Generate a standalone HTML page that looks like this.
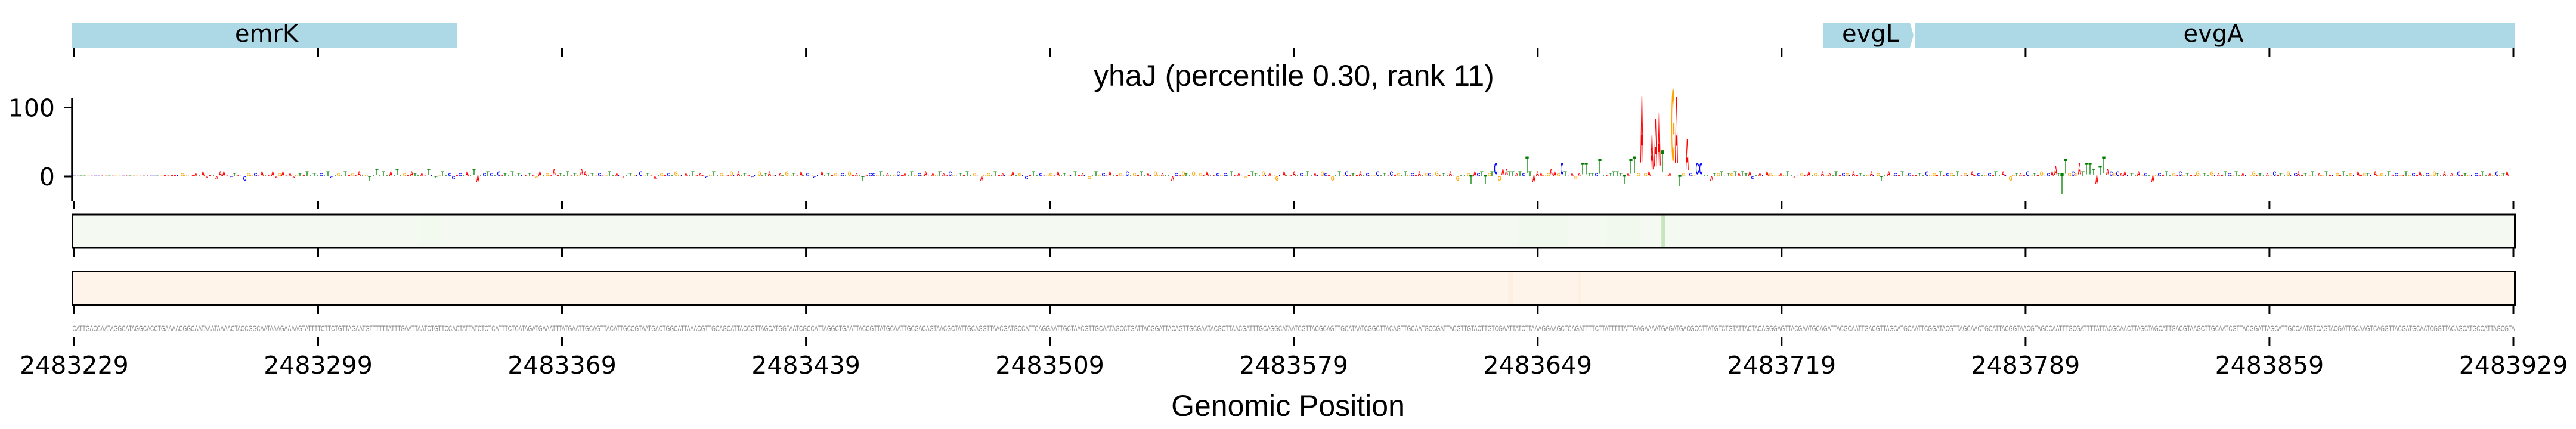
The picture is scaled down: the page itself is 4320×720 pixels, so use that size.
<!DOCTYPE html>
<html><head><meta charset="utf-8">
<style>
html,body{margin:0;padding:0;background:#fff;width:4320px;height:720px;overflow:hidden;position:relative}
svg{position:absolute;left:0;top:0}
#lg{position:absolute;left:121.48px;top:287.53px;width:4097px;display:flex;--y:.42;--t:0px}
ka,kc,kg,kt{display:block;flex:none;width:5.8437px;height:10px;font:bold 10px/10px "Liberation Sans",Arial,sans-serif;text-align:center;white-space:nowrap;transform-origin:50% 8.47px;transform:translateY(var(--t)) scale(var(--x),var(--y))}
ka{color:#ff0000;--x:.74}
kc{color:#0000ff;--x:.8}
kg{color:#ffa500;--x:.76}
kt{color:#008000;--x:.9}
w{display:contents;--y:.21}
.b{--y:.7}.c{--y:1.12}.d{--y:1.54}.e{--y:2.1}.f{--y:2.8}.g{--y:3.5}.h{--y:4.05}
.n2{--y:.42;--t:3px}.n3{--y:.7;--t:5px}.n4{--y:1.12;--t:8px}.n5{--y:1.54;--t:11px}.n6{--y:2.1;--t:15px}.n7{--y:2.8;--t:20px}.n8{--y:5.2;--t:37px}
</style></head><body>
<svg width="4320" height="720" viewBox="0 0 4320 720">
<rect width="4320" height="720" fill="#fff"/>
<rect x="121" y="38" width="645" height="42" fill="#add8e6"/>
<polygon points="3058,38 3203,38 3209,59 3203,80 3058,80" fill="#add8e6"/>
<rect x="3211" y="38" width="1007" height="42" fill="#add8e6"/>
<g font-family="DejaVu Sans, sans-serif" font-size="40" text-anchor="middle" fill="#000">
<text x="447" y="70">emrK</text><text x="3137" y="70">evgL</text><text x="3712" y="70">evgA</text>
</g>
<g stroke="#000" stroke-width="3" fill="none">
<path d="M124.4 80v15M533.5 80v15M942.5 80v15M1351.6 80v15M1760.6 80v15M2169.7 80v15M2578.8 80v15M2987.8 80v15M3396.9 80v15M3805.9 80v15M4215 80v15"/>
<path transform="translate(0,257)" d="M124.4 80v14M533.5 80v14M942.5 80v14M1351.6 80v14M1760.6 80v14M2169.7 80v14M2578.8 80v14M2987.8 80v14M3396.9 80v14M3805.9 80v14M4215 80v14"/>
<path transform="translate(0,337)" d="M124.4 80v14M533.5 80v14M942.5 80v14M1351.6 80v14M1760.6 80v14M2169.7 80v14M2578.8 80v14M2987.8 80v14M3396.9 80v14M3805.9 80v14M4215 80v14"/>
<path transform="translate(0,433)" d="M124.4 80v14M533.5 80v14M942.5 80v14M1351.6 80v14M1760.6 80v14M2169.7 80v14M2578.8 80v14M2987.8 80v14M3396.9 80v14M3805.9 80v14M4215 80v14"/>
<path transform="translate(0,486)" d="M124.4 80v14M533.5 80v14M942.5 80v14M1351.6 80v14M1760.6 80v14M2169.7 80v14M2578.8 80v14M2987.8 80v14M3396.9 80v14M3805.9 80v14M4215 80v14"/>
<path d="M121 165V337" stroke-width="3.5"/>
<path d="M107 180.5H121M107 296H121"/>
</g>
<g font-family="DejaVu Sans, sans-serif" font-size="41" text-anchor="end" fill="#000">
<text x="92" y="195.5">100</text><text x="92" y="311">0</text>
</g>
<text x="2170" y="144" font-family="Liberation Sans, Arial, sans-serif" font-size="50" text-anchor="middle" fill="#000">yhaJ (percentile 0.30, rank 11)</text>
<rect x="121.5" y="360" width="4096" height="56" fill="#f4faf1"/>
<rect x="705.9" y="360" width="30" height="56" fill="#f2f9ef"/>
<rect x="2546.6" y="360" width="81.8" height="56" fill="#f1f8ee"/>
<rect x="2692.7" y="360" width="58" height="56" fill="#f1f8ee"/>
<rect x="2786.2" y="360" width="5.84" height="56" fill="#c7e6bf"/>
<rect x="121.5" y="360" width="4096" height="56" fill="none" stroke="#000" stroke-width="3"/>
<rect x="121.5" y="455.5" width="4096" height="56" fill="#fef4e9"/>
<rect x="2529.1" y="455.5" width="8" height="56" fill="#fdefe2"/>
<rect x="2645.9" y="455.5" width="6" height="56" fill="#fdefe2"/>
<rect x="121.5" y="455.5" width="4096" height="56" fill="none" stroke="#000" stroke-width="3"/>
<text x="121.5" y="556" font-family="Liberation Sans, Arial, sans-serif" font-size="14" fill="#888" textLength="4096" lengthAdjust="spacingAndGlyphs">CATTGACCAATAGGCATAGGCACCTGAAAACGGCAATAAATAAAACTACCGGCAATAAAGAAAAGTATTTTCTTCTGTTAGAATGTTTTTTATTTGAATTAATCTGTTCCACTATTATCTCTCATTTCTCATAGATGAAATTTATGAATTGCAGTTACATTGCCGTAATGACTGGCATTAAACGTTGCAGCATTACCGTTAGCATGGTAATCGCCATTAGGCTGAATTACCGTTATGCAATTGCGACAGTAACGCTATTGCAGGTTAACGATGCCATTCAGGAATTGCTAACGTTGCAATAGCCTGATTACGGATTACAGTTGCGAATACGCTTAACGATTTGCAGGCATAATCGTTACGCAGTTGCATAATCGGCTTACAGTTGCAATGCCGATTACGTTGTACTTGTCGAATTATCTTAAAGGAAGCTCAGATTTTCTTATTTTTATTGAGAAAATGAGATGACGCCTTATGTCTGTATTACTACAGGGAGTTACGAATGCAGATTACGCAATTGACGTTAGCATGCAATTCGGATACGTTAGCAACTGCATTACGGTAACGTAGCCAATTTGCGATTTTATTACGCAACTTAGCTAGCATTGACGTAAGCTTGCAATCGTTACGGATTAGCATTGCCAATGTCAGTACGATTGCAAGTCAGGTTACGATGCAATCGGTTACAGCATGCCATTAGCGTA</text>
<g font-family="DejaVu Sans, sans-serif" font-size="41" text-anchor="middle" fill="#000">
<text x="124.4" y="627">2483229</text><text x="533.5" y="627">2483299</text><text x="942.5" y="627">2483369</text><text x="1351.6" y="627">2483439</text><text x="1760.6" y="627">2483509</text><text x="2169.7" y="627">2483579</text><text x="2578.8" y="627">2483649</text><text x="2987.8" y="627">2483719</text><text x="3396.9" y="627">2483789</text><text x="3805.9" y="627">2483859</text><text x="4215" y="627">2483929</text>
</g>
<text x="2160" y="698" font-family="Liberation Sans, Arial, sans-serif" font-size="50" text-anchor="middle" fill="#000">Genomic Position</text>
</svg>
<div id="lg"><w><kc>C</kc><ka>A</ka><kt>T</kt><kt>T</kt><kg>G</kg><ka>A</ka><kc>C</kc><kc>C</kc><ka>A</ka><ka>A</ka><kt>T</kt><ka>A</ka><kg>G</kg><kg>G</kg><kc>C</kc><ka>A</ka><kt>T</kt><ka>A</ka><kg>G</kg><kg>G</kg><kc>C</kc><ka>A</ka><kc>C</kc><kc>C</kc><kt>T</kt><kg>G</kg></w><ka>A</ka><ka>A</ka><ka>A</ka><ka>A</ka><kc>C</kc><kg class=b>G</kg><kg>G</kg><kc>C</kc><ka>A</ka><ka class=b>A</ka><kt>T</kt><ka class=c>A</ka><ka class=n2>A</ka><ka>A</ka><kt>T</kt><ka class=n3>A</ka><ka class=c>A</ka><ka class=c>A</ka><ka>A</ka><kc class=n2>C</kc><kt class=b>T</kt><ka>A</ka><kc>C</kc><kc class=n4>C</kc><kg class=b>G</kg><kg>G</kg><kc class=b>C</kc><ka>A</ka><ka class=c>A</ka><kt>T</kt><ka>A</ka><ka class=c>A</ka><ka class=n2>A</ka><kg class=b>G</kg><ka class=c>A</ka><ka>A</ka><ka class=b>A</ka><ka class=n2>A</ka><kg>G</kg><kt class=b>T</kt><ka>A</ka><kt class=c>T</kt><kt>T</kt><kt class=b>T</kt><kt>T</kt><kc class=b>C</kc><kt>T</kt><kt class=c>T</kt><kc class=n2>C</kc><kt>T</kt><kg class=b>G</kg><kt>T</kt><kt class=c>T</kt><ka>A</ka><kg class=b>G</kg><ka>A</ka><ka class=c>A</ka><kt>T</kt><kg>G</kg><kt class=n4>T</kt><kt>T</kt><kt class=d>T</kt><kt>T</kt><kt class=c>T</kt><kt>T</kt><ka class=c>A</ka><kt>T</kt><kt class=d>T</kt><kt>T</kt><kg class=b>G</kg><ka>A</ka><ka class=c>A</ka><kt class=b>T</kt><kt>T</kt><ka class=b>A</ka><ka>A</ka><kt class=d>T</kt><kc>C</kc><kt class=n2>T</kt><kg>G</kg><kt class=c>T</kt><kt>T</kt><kc class=b>C</kc><kc class=n3>C</kc><ka>A</ka><kc class=b>C</kc><kt>T</kt><ka class=c>A</ka><kt>T</kt><kt class=d>T</kt><ka class=n5>A</ka><kt>T</kt><kc class=b>C</kc><kt class=c>T</kt><kc class=b>C</kc><kt>T</kt><kc class=c>C</kc><ka>A</ka><kt class=b>T</kt><kt>T</kt><kt class=c>T</kt><kc>C</kc><kt class=b>T</kt><kc>C</kc><ka>A</ka><kt class=b>T</kt><ka>A</ka><kg class=n2>G</kg><ka class=c>A</ka><kt>T</kt><kg class=b>G</kg><ka>A</ka><ka class=d>A</ka><ka>A</ka><kt class=b>T</kt><kt>T</kt><kt class=c>T</kt><ka>A</ka><kt class=b>T</kt><kg>G</kg><ka class=d>A</ka><ka class=c>A</ka><kt>T</kt><kt class=b>T</kt><kg>G</kg><kc class=b>C</kc><ka>A</ka><kg>G</kg><kt class=c>T</kt><kt>T</kt><ka class=b>A</ka><kc>C</kc><ka class=n2>A</ka><kt>T</kt><kt class=b>T</kt><kg>G</kg><kc>C</kc><kc class=c>C</kc><kg>G</kg><kt class=b>T</kt><ka>A</ka><ka class=n3>A</ka><kt>T</kt><kg class=b>G</kg><ka>A</ka><kc class=b>C</kc><kt>T</kt><kg class=c>G</kg><kg>G</kg><kc>C</kc><ka class=b>A</ka><kt>T</kt><kt class=c>T</kt><ka>A</ka><ka class=b>A</ka><ka>A</ka><kc class=n2>C</kc><kg>G</kg><kt class=c>T</kt><kt>T</kt><kg class=b>G</kg><kc>C</kc><ka>A</ka><kg class=c>G</kg><kc>C</kc><ka class=c>A</ka><kt>T</kt><kt class=b>T</kt><ka>A</ka><kc class=n2>C</kc><kc>C</kc><kg class=c>G</kg><kt>T</kt><kt class=b>T</kt><ka class=c>A</ka><kg>G</kg><kc>C</kc><ka class=b>A</ka><kt>T</kt><kg class=c>G</kg><kg>G</kg><kt class=b>T</kt><ka>A</ka><ka class=c>A</ka><kt>T</kt><kc class=b>C</kc><kg>G</kg><kc class=n2>C</kc><kc>C</kc><ka class=c>A</ka><kt>T</kt><kt class=b>T</kt><ka>A</ka><kg class=b>G</kg><kg>G</kg><kc class=b>C</kc><kt>T</kt><kg class=c>G</kg><ka>A</ka><ka class=b>A</ka><kt>T</kt><kt class=n4>T</kt><ka>A</ka><kc class=b>C</kc><kc class=b>C</kc><kg>G</kg><kt class=c>T</kt><kt>T</kt><ka class=b>A</ka><kt>T</kt><kg>G</kg><kc class=c>C</kc><ka>A</ka><ka class=b>A</ka><kt>T</kt><kt class=c>T</kt><kg>G</kg><kc class=b>C</kc><kg>G</kg><ka class=c>A</ka><kc>C</kc><ka class=b>A</ka><kg>G</kg><kt class=c>T</kt><ka class=b>A</ka><ka>A</ka><kc class=c>C</kc><kg>G</kg><kc>C</kc><kt class=b>T</kt><ka>A</ka><kt class=c>T</kt><kt>T</kt><kg class=b>G</kg><kc>C</kc><ka class=n4>A</ka><kg>G</kg><kg class=b>G</kg><kt>T</kt><kt class=c>T</kt><ka>A</ka><ka class=b>A</ka><kc>C</kc><kg>G</kg><ka class=c>A</ka><kt>T</kt><kg class=b>G</kg><kc>C</kc><kc class=n3>C</kc><ka>A</ka><kt class=c>T</kt><kt>T</kt><kc class=b>C</kc><ka>A</ka><kg>G</kg><kg class=b>G</kg><ka>A</ka><ka class=c>A</ka><kt>T</kt><kt class=b>T</kt><kg>G</kg><kc>C</kc><kt class=c>T</kt><ka>A</ka><ka class=b>A</ka><kc>C</kc><kg class=n3>G</kg><kt>T</kt><kt class=c>T</kt><kg>G</kg><kc class=b>C</kc><ka>A</ka><ka class=c>A</ka><kt>T</kt><ka>A</ka><kg class=b>G</kg><kc>C</kc><kc class=c>C</kc><kt>T</kt><kg class=b>G</kg><ka>A</ka><kt class=c>T</kt><kt>T</kt><ka class=b>A</ka><kc>C</kc><kg class=c>G</kg><kg>G</kg><ka class=b>A</ka><kt>T</kt><kt>T</kt><ka class=n4>A</ka><kc class=b>C</kc><ka>A</ka><kg class=c>G</kg><kt class=b>T</kt><kt>T</kt><kg class=c>G</kg><kc>C</kc><kg class=b>G</kg><ka>A</ka><ka class=c>A</ka><kt>T</kt><ka>A</ka><kc class=b>C</kc><kg>G</kg><kc class=b>C</kc><kt>T</kt><kt class=c>T</kt><ka>A</ka><ka class=b>A</ka><kc>C</kc><kg class=n2>G</kg><ka>A</ka><kt class=c>T</kt><kt class=b>T</kt><kt>T</kt><kg class=c>G</kg><kc>C</kc><ka class=b>A</ka><kg>G</kg><kg class=n4>G</kg><kc>C</kc><ka class=c>A</ka><kt>T</kt><ka>A</ka><ka class=c>A</ka><kt>T</kt><kc class=b>C</kc><kg>G</kg><kt class=c>T</kt><kt>T</kt><ka class=b>A</ka><kc>C</kc><kg class=c>G</kg><kc class=b>C</kc><ka>A</ka><kg class=n4>G</kg><kt>T</kt><kt class=c>T</kt><kg>G</kg><kc class=c>C</kc><ka>A</ka><kt class=b>T</kt><ka>A</ka><ka class=c>A</ka><kt>T</kt><kc class=b>C</kc><kg>G</kg><kg>G</kg><kc class=c>C</kc><kt>T</kt><kt class=b>T</kt><ka>A</ka><kc class=c>C</kc><ka>A</ka><kg class=b>G</kg><kt>T</kt><kt class=c>T</kt><kg>G</kg><kc class=b>C</kc><ka>A</ka><ka class=c>A</ka><kt>T</kt><kg class=b>G</kg><kc class=b>C</kc><kc>C</kc><kg class=c>G</kg><ka>A</ka><kt class=b>T</kt><kt>T</kt><ka class=c>A</ka><kc>C</kc><kg class=n4>G</kg><kt>T</kt><kt>T</kt><kg class=b>G</kg><kt class=n6>T</kt><ka class=c>A</ka><kc class=b>C</kc><kt class=c>T</kt><kt class=n6>T</kt><kg class=b>G</kg><kt class=c>T</kt><kc class=f>C</kc><kg class=n4>G</kg><ka class=d>A</ka><ka class=d>A</ka><kt class=c>T</kt><kt class=c>T</kt><ka class=b>A</ka><kt class=c>T</kt><kc class=b>C</kc><kt class=h>T</kt><kt class=c>T</kt><ka class=n5>A</ka><ka class=c>A</ka><ka class=b>A</ka><kg>G</kg><kg class=b>G</kg><ka class=d>A</ka><ka class=c>A</ka><kg class=b>G</kg><kc class=f>C</kc><kt class=c>T</kt><kc>C</kc><ka class=b>A</ka><kg class=n3>G</kg><ka class=b>A</ka><kt class=f>T</kt><kt class=f>T</kt><kt class=b>T</kt><kt class=b>T</kt><kc class=b>C</kc><kt class=g>T</kt><kt>T</kt><ka>A</ka><kt class=b>T</kt><kt class=c>T</kt><kt class=c>T</kt><kt class=b>T</kt><kt class=n6>T</kt><ka class=b>A</ka><kt class=g>T</kt><kt class=h>T</kt><kg class=b>G</kg><ka style="--y:16.2">A</ka><kg class=b>G</kg><ka class=c>A</ka><ka style="--y:8.38">A</ka><ka style="--y:11.6">A</ka><ka style="--y:12.85">A</ka><kt style="--y:5.3">T</kt><kg>G</kg><ka class=b>A</ka><kg style="--y:17.6">G</kg><ka style="--y:16.06">A</ka><kt class=n7>T</kt><kg class=b>G</kg><ka style="--y:7.54">A</ka><kc class=b>C</kc><kg>G</kg><kc class=f>C</kc><kc class=f>C</kc><kt>T</kt><kt>T</kt><ka class=n4>A</ka><kt class=b>T</kt><kg class=b>G</kg><kt class=c>T</kt><kc>C</kc><kt class=b>T</kt><kg class=b>G</kg><kt class=c>T</kt><ka class=b>A</ka><kt class=c>T</kt><kt class=b>T</kt><ka class=c>A</ka><kc class=n3>C</kc><kt>T</kt><ka class=b>A</ka><kc>C</kc><ka class=c>A</ka><kg class=b>G</kg><kg>G</kg><kg>G</kg><ka class=b>A</ka><kg>G</kg><kt class=c>T</kt><kt>T</kt><ka class=n2>A</ka><kc>C</kc><kg class=b>G</kg><ka>A</ka><ka class=c>A</ka><kt>T</kt><kg class=b>G</kg><kc>C</kc><ka class=c>A</ka><kg>G</kg><ka class=b>A</ka><kt>T</kt><kt class=c>T</kt><ka>A</ka><kc class=b>C</kc><kg class=b>G</kg><kc>C</kc><ka class=c>A</ka><ka>A</ka><kt class=b>T</kt><kt>T</kt><kg>G</kg><ka class=c>A</ka><kc>C</kc><kg class=b>G</kg><kt class=n4>T</kt><kt>T</kt><ka class=c>A</ka><kg>G</kg><kc class=b>C</kc><ka>A</ka><kt class=c>T</kt><kg>G</kg><kc class=b>C</kc><ka>A</ka><ka>A</ka><kt class=b>T</kt><kt>T</kt><kc class=c>C</kc><kg>G</kg><kg class=b>G</kg><ka>A</ka><kt class=c>T</kt><ka>A</ka><kc class=b>C</kc><kg class=b>G</kg><kt>T</kt><kt class=c>T</kt><ka>A</ka><kg class=b>G</kg><kc>C</kc><ka class=c>A</ka><ka>A</ka><kc class=b>C</kc><kt>T</kt><kg>G</kg><kc class=b>C</kc><ka>A</ka><kt class=c>T</kt><kt>T</kt><ka class=c>A</ka><kc>C</kc><kg class=n4>G</kg><kg>G</kg><kt class=b>T</kt><ka class=b>A</ka><ka>A</ka><kc class=c>C</kc><kg>G</kg><kt class=b>T</kt><ka>A</ka><kg class=c>G</kg><kc>C</kc><kc class=b>C</kc><ka class=c>A</ka><ka class=e>A</ka><kt class=b>T</kt><kt class=n8>T</kt><kt class=g>T</kt><kg class=b>G</kg><kc class=c>C</kc><kg class=b>G</kg><ka class=f>A</ka><kt class=c>T</kt><kt class=f>T</kt><kt class=f>T</kt><kt class=d>T</kt><ka class=n6>A</ka><kt class=e>T</kt><kt class=h>T</kt><ka class=d>A</ka><kc class=c>C</kc><kg class=b>G</kg><kc class=c>C</kc><ka class=b>A</ka><ka class=c>A</ka><kc>C</kc><kt class=b>T</kt><kt>T</kt><ka class=c>A</ka><kg>G</kg><kc class=b>C</kc><kt>T</kt><ka class=n5>A</ka><kg>G</kg><kc class=b>C</kc><ka>A</ka><kt class=c>T</kt><kt>T</kt><kg class=b>G</kg><ka>A</ka><kc class=c>C</kc><kg>G</kg><kt class=b>T</kt><ka>A</ka><ka>A</ka><kg class=c>G</kg><kc>C</kc><kt class=b>T</kt><kt>T</kt><kg class=c>G</kg><kc>C</kc><ka class=b>A</ka><ka>A</ka><kt class=c>T</kt><kc class=b>C</kc><kg>G</kg><kt class=c>T</kt><kt>T</kt><ka class=b>A</ka><kc>C</kc><kg>G</kg><kg class=c>G</kg><ka>A</ka><kt class=b>T</kt><kt>T</kt><ka class=b>A</ka><kg>G</kg><kc class=c>C</kc><ka>A</ka><kt class=b>T</kt><kt>T</kt><kg class=c>G</kg><kc>C</kc><kc class=b>C</kc><ka class=c>A</ka><ka>A</ka><kt class=b>T</kt><kg>G</kg><kt class=c>T</kt><kc>C</kc><ka class=b>A</ka><kg>G</kg><kt class=c>T</kt><ka>A</ka><kc>C</kc><kg class=b>G</kg><ka>A</ka><kt class=c>T</kt><kt>T</kt><kg class=b>G</kg><kc>C</kc><ka class=c>A</ka><ka>A</ka><kg class=b>G</kg><kt class=b>T</kt><kc>C</kc><ka class=c>A</ka><kg>G</kg><kg class=b>G</kg><kt>T</kt><kt class=c>T</kt><ka>A</ka><kc class=b>C</kc><kg>G</kg><ka>A</ka><kt class=c>T</kt><kg>G</kg><kc class=b>C</kc><ka>A</ka><ka class=c>A</ka><kt>T</kt><kc class=b>C</kc><kg>G</kg><kg class=c>G</kg><kt class=b>T</kt><kt>T</kt><ka class=c>A</ka><kc>C</kc><ka class=b>A</ka><kg>G</kg><kc class=c>C</kc><ka>A</ka><kt class=b>T</kt><kg>G</kg><kc>C</kc><kc class=b>C</kc><ka>A</ka><kt class=c>T</kt><kt>T</kt><ka class=b>A</ka><kg>G</kg><kc class=c>C</kc><kg>G</kg><kt class=b>T</kt><ka class=c>A</ka></div>
</body></html>
